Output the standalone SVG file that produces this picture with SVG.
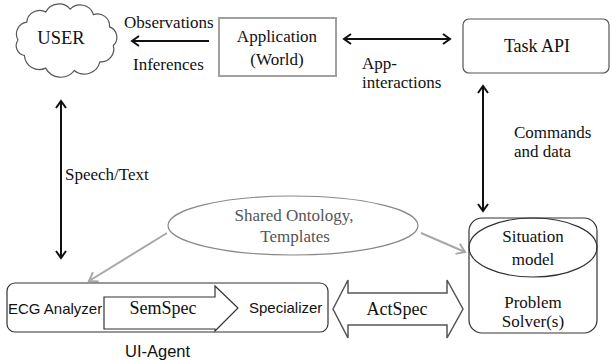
<svg xmlns="http://www.w3.org/2000/svg" width="611" height="360" viewBox="0 0 611 360">
<style>
.s{font-family:"Liberation Serif","Times New Roman",serif;font-size:17px;fill:#111}
.ss{font-family:"Liberation Sans",Arial,sans-serif;font-size:15px;fill:#111}
.g{fill:#555}
.blk{stroke:#111;stroke-width:2;fill:none}
.gry{stroke:#a8a8a8;stroke-width:2;fill:none}
.m{text-anchor:middle}
</style>
<defs>
<marker id="ah" markerWidth="12" markerHeight="12" refX="9" refY="6" orient="auto-start-reverse" markerUnits="userSpaceOnUse">
<path d="M2,1 L9,6 L2,11" fill="none" stroke="#111" stroke-width="2"/>
</marker>
<marker id="ahg" markerWidth="14" markerHeight="14" refX="10" refY="7" orient="auto" markerUnits="userSpaceOnUse">
<path d="M2,1.5 L10,7 L2,12.5" fill="none" stroke="#a8a8a8" stroke-width="2"/>
</marker>
</defs>

<g id="connectors">
<line class="blk" x1="209" y1="41" x2="132" y2="41" marker-end="url(#ah)"/>
<line class="blk" x1="344" y1="39" x2="450" y2="39" marker-start="url(#ah)" marker-end="url(#ah)"/>
<line class="blk" x1="61" y1="101" x2="61" y2="258" marker-start="url(#ah)" marker-end="url(#ah)"/>
<line class="blk" x1="483" y1="86" x2="483" y2="211" marker-start="url(#ah)" marker-end="url(#ah)"/>
<line class="gry" x1="167" y1="233" x2="89" y2="281" marker-end="url(#ahg)"/>
<line class="gry" x1="421" y1="233" x2="465" y2="252" marker-end="url(#ahg)"/>
<text class="s" x="124" y="28">Observations</text>
<text class="s" x="133" y="70">Inferences</text>
<text class="s" x="362" y="69">App-</text>
<text class="s" x="362" y="88">interactions</text>
<text class="s" x="65" y="180">Speech/Text</text>
<text class="s" x="514" y="138">Commands</text>
<text class="s" x="514" y="157">and data</text>
</g>

<g id="user">
<path d="M18,40 A12,12 0 0 1 26.7,22.2 A13,13 0 0 1 45.7,11.9 A15,15 0 0 1 70.2,9.1 A14,14 0 0 1 93.5,14.6 A12,12 0 0 1 109.5,26.9 A11,11 0 0 1 113.3,45.4 A13,13 0 0 1 99.9,61.9 A16,16 0 0 1 74.3,70.5 A17,17 0 0 1 45.7,68.1 A15,15 0 0 1 24.4,55.5 A10,10 0 0 1 18,40 Z" fill="#fff" stroke="#555" stroke-width="1.2"/>
<text class="s m" x="61" y="44" style="font-size:18.5px">USER</text>
</g>

<g id="application">
<rect x="219" y="18" width="117" height="58" fill="#fff" stroke="#a0a0a0" stroke-width="2"/>
<text class="s m" x="277" y="42">Application</text>
<text class="s m" x="277" y="65">(World)</text>
</g>

<g id="taskapi">
<rect x="463" y="19" width="146" height="54" rx="6" fill="#fff" stroke="#555" stroke-width="1.2"/>
<text class="s m" x="537" y="52" style="font-size:18px">Task API</text>
</g>

<g id="ontology">
<ellipse cx="293" cy="225.5" rx="125" ry="29.5" fill="#fff" stroke="#888" stroke-width="1.2"/>
<text class="s m g" x="294" y="221">Shared Ontology,</text>
<text class="s m g" x="295" y="242">Templates</text>
</g>

<g id="solver">
<rect x="469" y="218" width="128" height="115" rx="13" fill="#fff" stroke="#333" stroke-width="1.2"/>
<ellipse cx="533" cy="247.5" rx="64" ry="29.5" fill="none" stroke="#333" stroke-width="1.2"/>
<text class="s m" x="533" y="242">Situation</text>
<text class="s m" x="533" y="265">model</text>
<text class="s m" x="533" y="308">Problem</text>
<text class="s m" x="533" y="327">Solver(s)</text>
</g>

<g id="uiagent">
<rect x="7" y="283" width="321" height="49" rx="8" fill="#fff" stroke="#333" stroke-width="1.2"/>
<polygon points="104,297 215,297 215,286 238,308 215,331 215,329 104,329" fill="#fff" stroke="#333" stroke-width="1.2"/>
<text class="ss" x="8" y="314">ECG Analyzer</text>
<text class="s m" x="163" y="314" style="font-size:18px">SemSpec</text>
<text class="ss" x="249" y="313">Specializer</text>
<text class="ss" x="125" y="357" style="font-size:16.5px">UI-Agent</text>
</g>

<g id="actspec">
<polygon points="333,309 348,280 348,293 447,293 447,280 463,309 447,338 447,325 348,325 348,338" fill="#fff" stroke="#555" stroke-width="1.5"/>
<text class="s m" x="397" y="315" style="font-size:18px">ActSpec</text>
</g>
</svg>
